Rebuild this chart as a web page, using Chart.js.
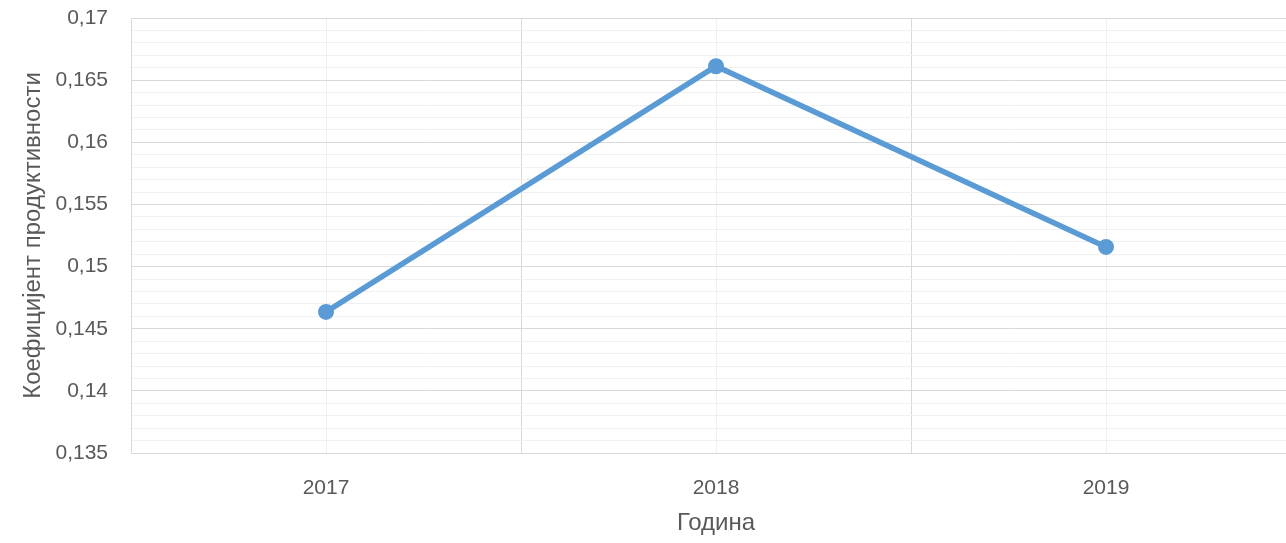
<!DOCTYPE html>
<html>
<head>
<meta charset="utf-8">
<script src="https://cdn.jsdelivr.net/npm/chart.js@4/dist/chart.umd.min.js"></script>
<style>
  html, body { margin: 0; padding: 0; overflow: hidden; background: #fff; }
  #wrap { width: 1310px; height: 543px; position: relative; }
</style>
</head>
<body>
<div id="wrap"><canvas id="chart"></canvas></div>
<script>
// podaci sa grafika
const godine = ['2017', '2018', '2019'];
const koeficijent = [0.14635, 0.16612, 0.15158];
const yMin = 0.135;
const yMax = 0.17;

const sivo = '#595959';
const fontTick = { family: 'Liberation Sans', size: 21 };
const fontNaslov = { family: 'Liberation Sans', size: 24 };

const isMajor = (v) => Math.round(v * 1000) % 5 === 0;

new Chart(document.getElementById('chart'), {
    type: 'line',
    data: {
        labels: godine,
        datasets: [{
            label: 'Коефицијент продуктивности',
            data: koeficijent,
            borderColor: '#5b9bd5', borderWidth: 5.5, tension: 0,
            pointRadius: 8, pointHoverRadius: 8, pointBackgroundColor: '#5b9bd5', pointBorderWidth: 0
        }]
    },
    options: {
        responsive: true, maintainAspectRatio: false, animation: false,
        layout: { padding: { top: 18, left: 0, right: 9, bottom: 0 } },
        plugins: { legend: { display: false }, tooltip: { enabled: false } },
        scales: {
            x: {
                type: 'category', offset: true,
                grid: { offset: true, color: '#d9d9d9', lineWidth: 1, drawTicks: false },
                border: { color: '#d9d9d9' },
                ticks: { color: sivo, font: fontTick, padding: 23 },
                title: { display: true, text: 'Година', color: sivo, font: fontNaslov, padding: { top: 0, bottom: 5 } },
                afterFit: (s) => { s.height = 90; s.paddingLeft = 0; s.paddingRight = 0; }
            },
            // tanke linije na sredini svake godine
            x2: {
                type: 'category', labels: godine, offset: true, position: 'top',
                grid: { offset: false, color: '#f0f0f0', drawTicks: false },
                border: { display: false },
                ticks: { display: false },
                afterFit: (s) => { s.height = 0; s.paddingLeft = 0; s.paddingRight = 0; }
            },
            y: {
                min: yMin, max: yMax,
                grid: { color: (ctx) => isMajor(ctx.tick.value) ? '#d9d9d9' : '#f0f0f0', drawTicks: false },
                border: { color: '#d9d9d9' },
                ticks: {
                    stepSize: 0.001, autoSkip: false, maxTicksLimit: 100,
                    color: sivo, font: fontTick, padding: 23,
                    callback: (v) => isMajor(v) ? String(Math.round(v * 1000) / 1000).replace('.', ',') : ''
                },
                title: { display: true, text: 'Коефицијент продуктивности', color: sivo, font: fontNaslov, padding: { top: 19, bottom: 0 } },
                afterFit: (s) => { s.width = 131; s.paddingTop = 0; s.paddingBottom = 0; }
            }
        }
    }
});
</script>
</body>
</html>
